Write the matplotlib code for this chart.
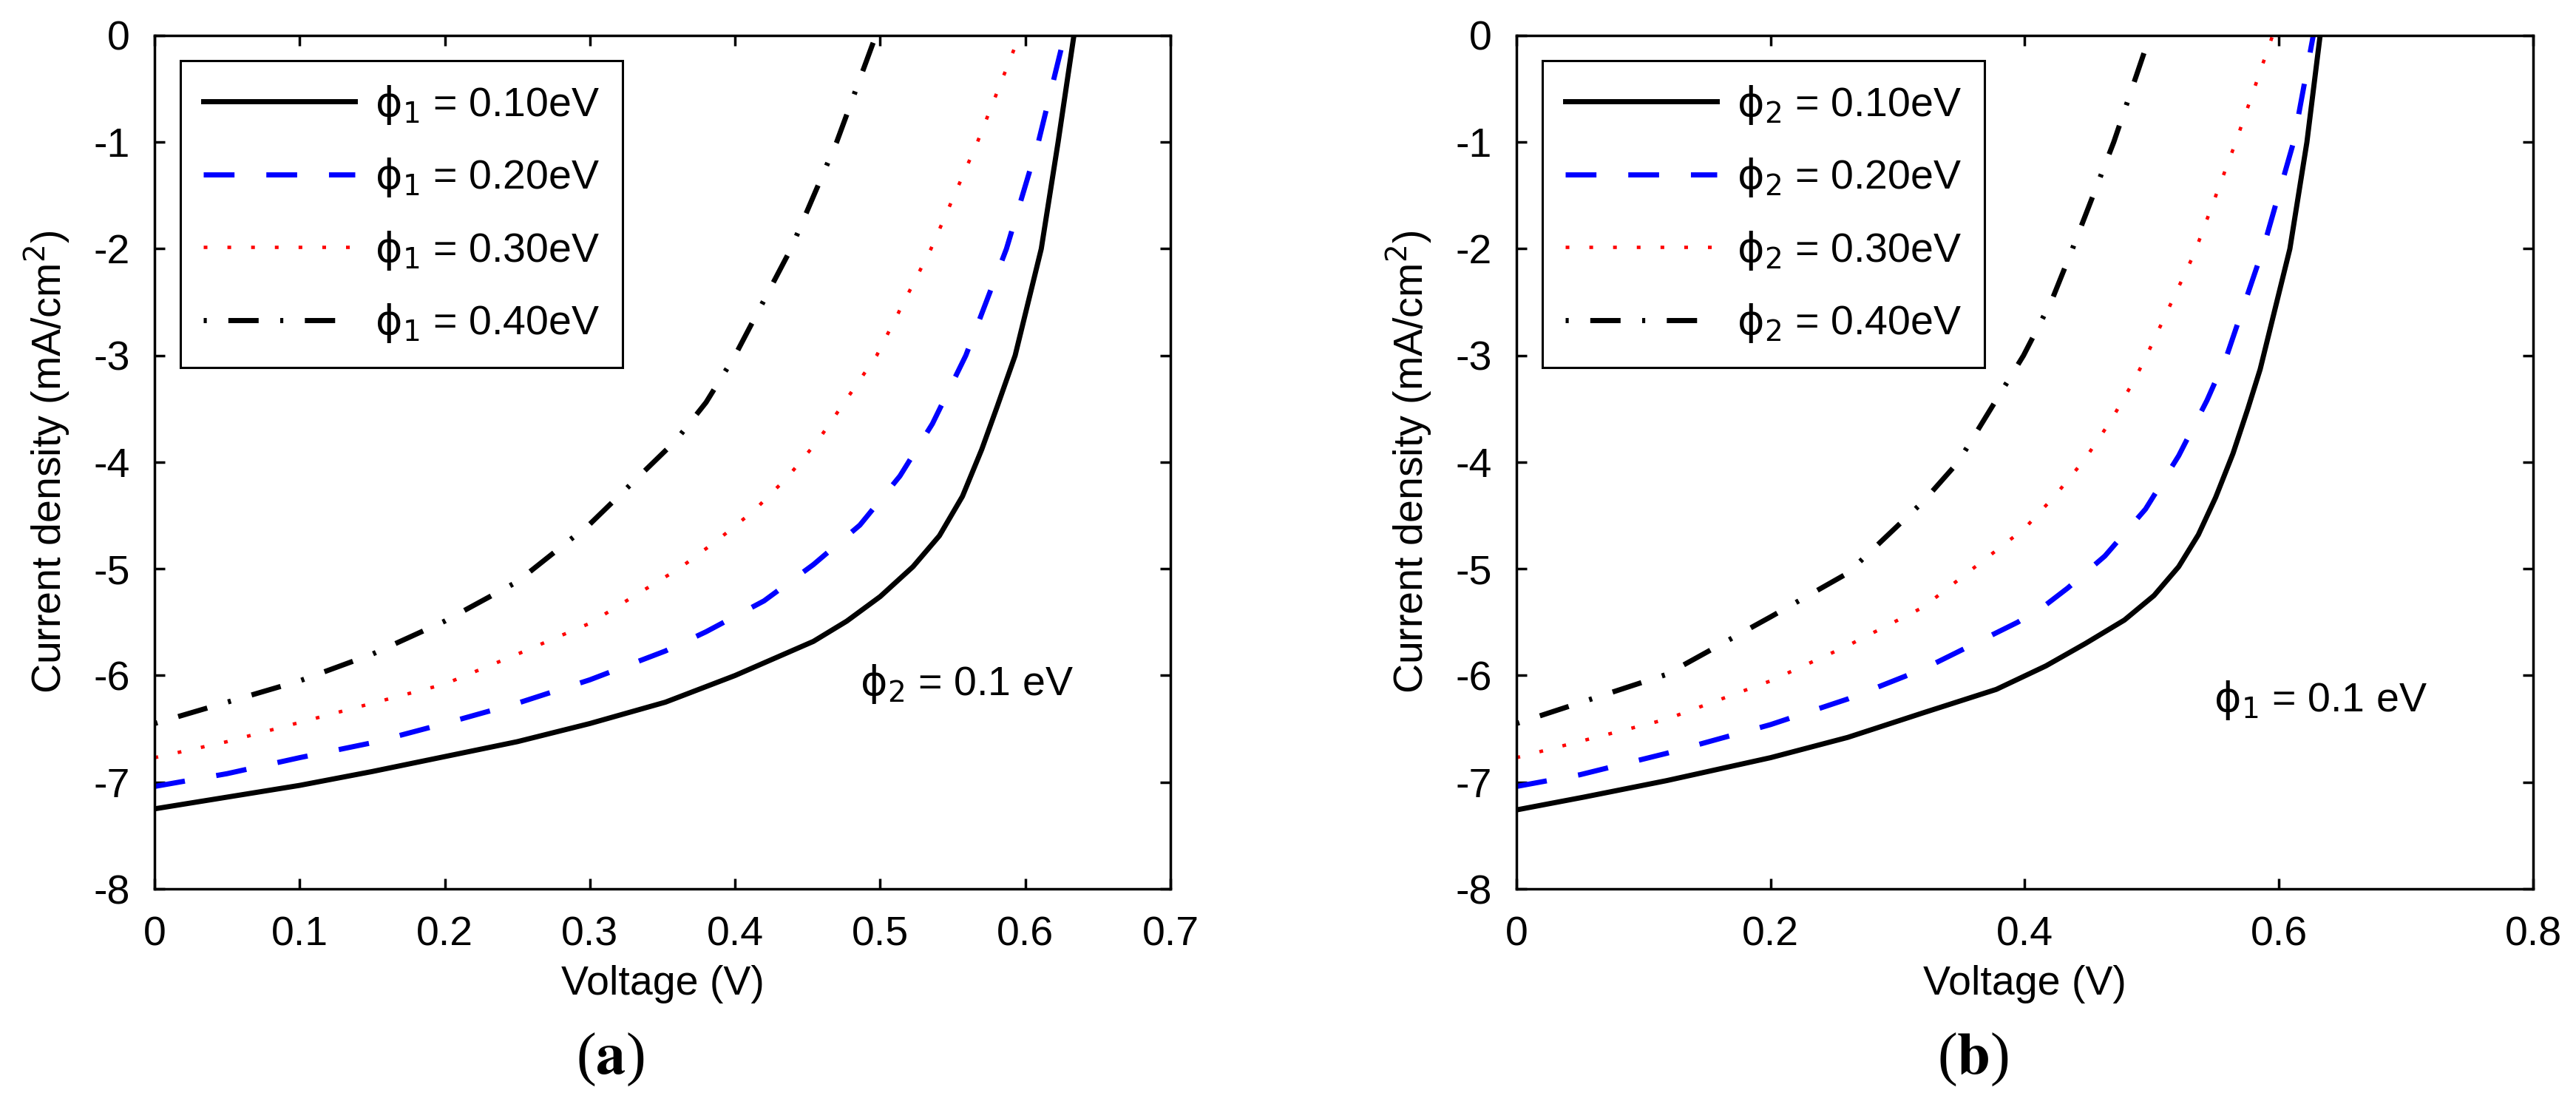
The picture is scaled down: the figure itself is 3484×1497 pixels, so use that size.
import matplotlib
matplotlib.use("Agg")
import matplotlib.pyplot as plt

# ── data (V in volts, J in mA/cm^2) ─────────────────────────────────
# panel (a): phi_1 varied, phi_2 = 0.1 eV
va_10 = [0, 0.05, 0.1, 0.15, 0.2, 0.25, 0.3, 0.352, 0.4, 0.454, 0.477, 0.5, 0.5226, 0.5408,
         0.5567, 0.570, 0.5806, 0.593, 0.611, 0.6226, 0.6335]
ja_10 = [-7.25, -7.14, -7.03, -6.90, -6.76, -6.62, -6.45, -6.25, -6.00, -5.68, -5.49, -5.26,
         -4.98, -4.69, -4.32, -3.88, -3.48, -3.0, -2.0, -1.0, 0]
va_20 = [0, 0.05, 0.1, 0.15, 0.2, 0.25, 0.3, 0.352, 0.38, 0.42, 0.454, 0.486, 0.5136, 0.536,
         0.559, 0.587, 0.609, 0.627]
ja_20 = [-7.04, -6.92, -6.77, -6.63, -6.45, -6.26, -6.04, -5.77, -5.59, -5.30, -4.96, -4.59,
         -4.13, -3.64, -3.0, -2.0, -1.0, 0]
va_30 = [0, 0.05, 0.1, 0.15, 0.2, 0.25, 0.3, 0.3622, 0.388, 0.4134, 0.4362, 0.457, 0.4976,
         0.535, 0.567, 0.596]
ja_30 = [-6.77, -6.62, -6.44, -6.26, -6.08, -5.80, -5.51, -4.99, -4.73, -4.45, -4.14, -3.80,
         -3.0, -2.0, -1.0, 0]
va_40 = [0, 0.05, 0.1, 0.15, 0.2, 0.25, 0.3, 0.359, 0.38, 0.400, 0.4385, 0.470, 0.497]
ja_40 = [-6.45, -6.25, -6.05, -5.80, -5.49, -5.12, -4.58, -3.80, -3.44, -3.0, -2.0, -1.0, 0]

# panel (b): phi_2 varied, phi_1 = 0.1 eV
vb_10 = [0, 0.053, 0.1183, 0.2, 0.2607, 0.32, 0.3776, 0.4166, 0.4477, 0.4784, 0.5017, 0.5211,
         0.5366, 0.5502, 0.5638, 0.5755, 0.5852, 0.6086, 0.622, 0.6324]
jb_10 = [-7.26, -7.14, -6.985, -6.77, -6.58, -6.35, -6.13, -5.91, -5.70, -5.48, -5.25, -4.98,
         -4.68, -4.33, -3.92, -3.50, -3.13, -2.0, -1.0, 0]
vb_20 = [0, 0.05, 0.118, 0.2, 0.2607, 0.32, 0.3945, 0.4152, 0.4338, 0.463, 0.495, 0.5211,
         0.5434, 0.559, 0.5875, 0.6115, 0.627]
jb_20 = [-7.04, -6.93, -6.73, -6.46, -6.22, -5.94, -5.50, -5.35, -5.18, -4.88, -4.44, -3.94,
         -3.42, -3.0, -2.0, -1.0, 0]
vb_30 = [0, 0.118, 0.2, 0.2607, 0.32, 0.4, 0.4241, 0.4474, 0.4678, 0.4862, 0.4955, 0.5335,
         0.566, 0.595]
jb_30 = [-6.77, -6.41, -6.05, -5.72, -5.36, -4.62, -4.31, -3.97, -3.61, -3.23, -3.01, -2.04,
         -1.0, 0]
vb_40 = [0, 0.118, 0.2, 0.2607, 0.32, 0.3475, 0.399, 0.421, 0.4375, 0.470, 0.4985]
jb_40 = [-6.45, -5.99, -5.45, -5.04, -4.37, -4.0, -3.0, -2.49, -2.0, -1.0, 0]

phi_values = ["0.10", "0.20", "0.30", "0.40"]
xticks_a = [0, 0.1, 0.2, 0.3, 0.4, 0.5, 0.6, 0.7]
xticks_b = [0, 0.2, 0.4, 0.6, 0.8]
yticks = [0, -1, -2, -3, -4, -5, -6, -7, -8]

# ── style ──────────────────────────────────────────────────────────
plt.rcParams["font.family"] = ["Liberation Sans", "DejaVu Sans"]
plt.rcParams["mathtext.fontset"] = "dejavusans"
FS = 40

styles = [
    dict(color="black", lw=5.0, ls="-"),
    dict(color="#0000ff", lw=5.0, ls=(0, (6, 6.2))),
    dict(color="#ff0000", lw=3.3, ls=(0, (1.1, 5.9))),
    dict(color="black", lw=5.0, ls=(10.1, (5.9, 4.2, 0.6, 4.2))),
]

fig = plt.figure(figsize=(34.84, 14.97), dpi=100)
ax_a = fig.add_axes([0.05999, 0.19706, 0.39437, 0.77088])
ax_b = fig.add_axes([0.58869, 0.19706, 0.39466, 0.77088])

panels = [
    (ax_a, [(va_10, ja_10), (va_20, ja_20), (va_30, ja_30), (va_40, ja_40)], "1", "2",
     xticks_a, 0.7, 0.486, -6.08),
    (ax_b, [(vb_10, jb_10), (vb_20, jb_20), (vb_30, jb_30), (vb_40, jb_40)], "2", "1",
     xticks_b, 0.8, 0.5486, -6.23),
]

for ax, series, sub, other, xt, xmax, tx, ty in panels:
    for (v, j), st, p in zip(series, styles, phi_values):
        ax.plot(v, j, label=r"$\mathrm{\phi_%s}$ = %seV" % (sub, p), **st)
    ax.set_xlim(0, xmax)
    ax.set_ylim(-8, 0)
    ax.set_xticks(xt)
    ax.set_xticklabels([("%g" % t) for t in xt])
    ax.set_yticks(yticks)
    ax.set_yticklabels([("%g" % t) for t in yticks])
    ax.tick_params(direction="in", top=True, right=True, length=10, width=2.5,
                   labelsize=FS)
    ax.tick_params(axis="x", pad=26)
    ax.tick_params(axis="y", pad=24)
    for s in ax.spines.values():
        s.set_linewidth(2.5)
    ax.set_xlabel("Voltage (V)", fontsize=FS)
    ax.set_ylabel(r"Current density (mA/cm$^2$)", fontsize=FS)
    ax.xaxis.set_label_coords(0.5, -0.089)
    ax.yaxis.set_label_coords(-0.081, 0.5)
    ax.text(tx, ty, r"$\mathrm{\phi_%s}$ = 0.1 eV" % other, fontsize=FS,
            ha="left", va="center")
    leg = ax.legend(loc="upper left", bbox_to_anchor=(0.0255, 0.9705), borderaxespad=0,
                    fontsize=FS, handlelength=3.7, handletextpad=0.48, borderpad=0.55,
                    labelspacing=0.73, fancybox=False, framealpha=1, edgecolor="black")
    leg.get_frame().set_linewidth(2.2)

fig.text(825 / 3484, 1 - 1433 / 1497, r"($\mathbf{a}$)", fontsize=58, ha="center",
         va="center", family="Liberation Serif", math_fontfamily="stix")
fig.text(2668 / 3484, 1 - 1433 / 1497, r"($\mathbf{b}$)", fontsize=58, ha="center",
         va="center", family="Liberation Serif", math_fontfamily="stix")

fig.savefig("out.png", dpi=100)
